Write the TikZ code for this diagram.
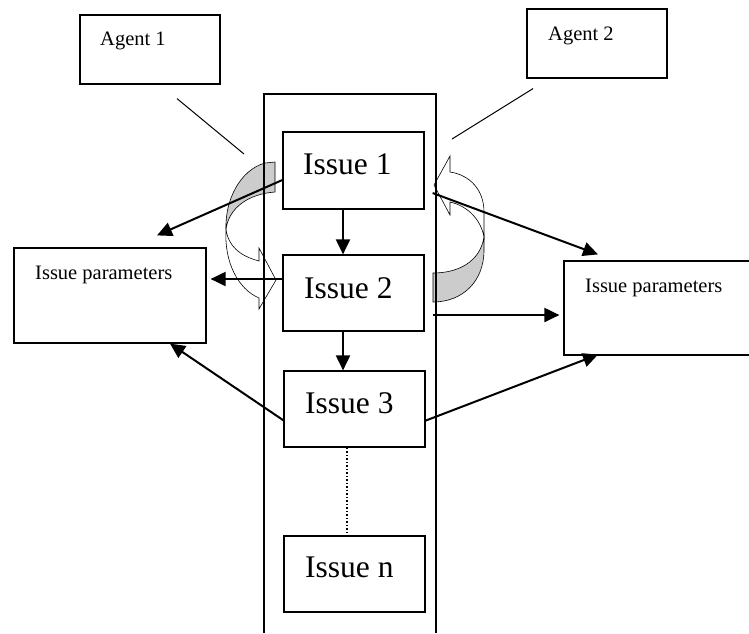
\documentclass[tikz,border=0pt]{standalone}
\usepackage{fontspec}
\setmainfont{Liberation Serif}
\usetikzlibrary{arrows.meta,calc}
\begin{document}
\begin{tikzpicture}[x=1pt,y=-1pt,
  frame/.style={draw, line width=1.2pt, inner sep=0pt},
  smalltext/.style={font=\fontsize{20.5}{24}\selectfont, inner sep=0pt, anchor=base west},
  bigtext/.style={font=\fontsize{31.5}{36}\selectfont, inner sep=0pt, anchor=base west},
  link/.style={line width=2pt, -{Triangle[length=15pt,width=14pt]}},
  agentline/.style={line width=1pt},
  bandfront/.style={draw, line width=0.6pt, fill=white},
  bandback/.style={draw, line width=0.6pt, fill=gray!40}]
\useasboundingbox (0,0) rectangle (749,633);
\clip (0,0) rectangle (749,633);

% curved block arrow on the left (top end shaded, head pointing right)
\path[bandback] (265,163) -- (275,162) -- (275,192)
  .. controls (248,194) and (229,208) .. (226,229)
  .. controls (225,200) and (240,170) .. (265,163) -- cycle;
\path[bandfront] (226,229)
  .. controls (224,262) and (238,289) .. (259,298)
  -- (259,309) -- (276,280) -- (259,248) -- (259,261)
  .. controls (240,256) and (228,246) .. (226,229) -- cycle;

% curved block arrow on the right (bottom end shaded, head pointing left)
\path[bandback] (433,273) -- (433,302)
  .. controls (462,302) and (484,282) .. (484,250)
  -- (484,237)
  .. controls (480,262) and (458,273) .. (433,273) -- cycle;
\path[bandfront] (484,237) -- (484,212)
  .. controls (484,190) and (470,175) .. (450,172)
  -- (450,156) -- (434,185) -- (450,215) -- (450,202)
  .. controls (468,206) and (481,220) .. (484,237) -- cycle;

% column holding the issues (open at the bottom)
\draw[line width=1.2pt] (264,633) -- (264,94) -- (436,94) -- (436,633);

% agents
\node[frame, minimum width=140pt, minimum height=69pt] (a1) at (150,49.5) {};
\node[smalltext] at (100,45) {Agent 1};
\node[frame, minimum width=140pt, minimum height=69pt] (a2) at (597,43.5) {};
\node[smalltext] at (548,40) {Agent 2};

\coordinate (a1end) at (244,154);
\coordinate (a2end) at (452,139);
\draw[agentline] ([xshift=27pt,yshift=-14pt]a1.south) -- (a1end);
\draw[agentline] ([xshift=-64pt,yshift=-10pt]a2.south) -- (a2end);

% issues
\node[frame, minimum width=141pt, minimum height=77pt] (i1) at (353.5,170.5) {};
\node[bigtext] at (303,174) {Issue 1};
\node[frame, minimum width=141pt, minimum height=76pt] (i2) at (353.5,293) {};
\node[bigtext] at (304,298) {Issue 2};
\node[frame, minimum width=141pt, minimum height=76pt] (i3) at (354.5,409) {};
\node[bigtext] at (305,413) {Issue 3};
\node[frame, minimum width=141pt, minimum height=76pt] (in) at (354.5,574) {};
\node[bigtext] at (305,577) {Issue n};

% parameter boxes
\node[frame, minimum width=192pt, minimum height=95pt] (lp) at (110,295.5) {};
\node[smalltext] at (35,279) {Issue parameters};
\node[frame, minimum width=196pt, minimum height=94pt] (rp) at (662,308) {};
\node[smalltext] at (585,292) {Issue parameters};

% sequence of issues
\draw[link] ([xshift=-10.5pt]i1.south) -- ([xshift=-10.5pt]i2.north);
\draw[link] ([xshift=-10.5pt]i2.south) -- ([xshift=-11.5pt]i3.north);
\draw[line width=1.5pt, dotted] ([xshift=-7.5pt]i3.south) -- ([xshift=-7.5pt]in.north);

% issues to their parameters
\draw[link] ([yshift=-9.5pt]i1.west) -- ([xshift=47pt,yshift=12pt]lp.north);
\draw[link] ([yshift=14pt]i2.west) -- ([xshift=4pt,yshift=16.5pt]lp.east);
\draw[link] ([xshift=1pt,yshift=-12pt]i3.west) -- ([xshift=60pt]lp.south);
\draw[link] ([xshift=8pt,yshift=-22.5pt]i1.east) -- ([xshift=-64pt,yshift=6pt]rp.north);
\draw[link] ([xshift=8pt,yshift=-22pt]i2.east) -- ([xshift=-4pt,yshift=-7pt]rp.west);
\draw[link] ([xshift=-1pt,yshift=-12pt]i3.east) -- ([xshift=-64pt,yshift=1pt]rp.south);
\end{tikzpicture}
\end{document}
